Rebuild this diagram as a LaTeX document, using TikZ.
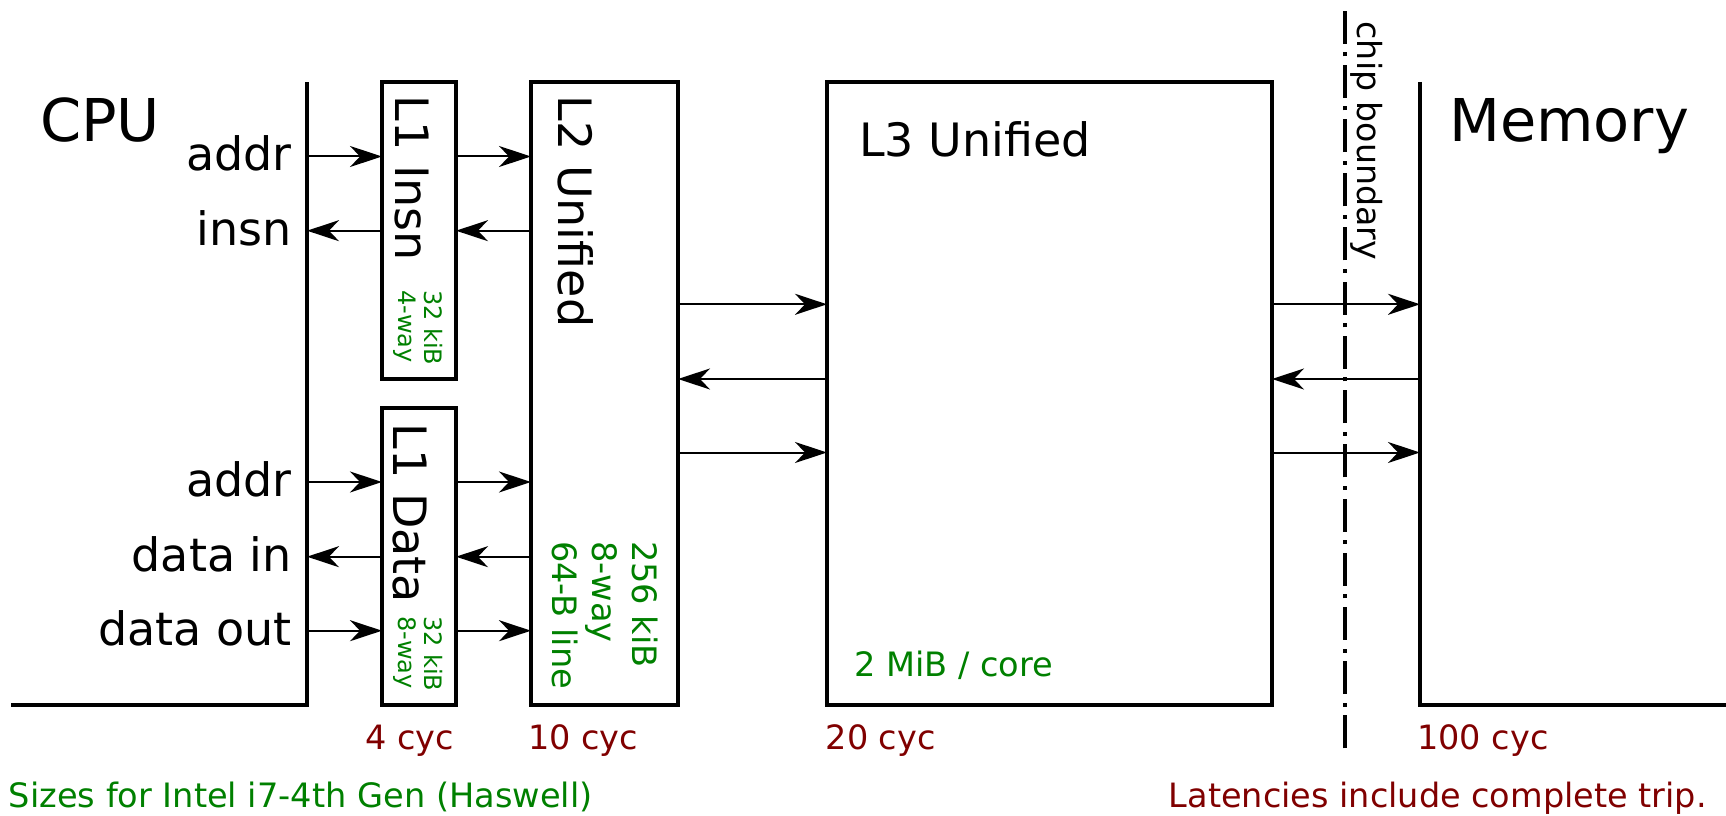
\documentclass[tikz,border=0pt]{standalone}
\usepackage{fontspec}
\setmainfont{DejaVu Sans}
\usetikzlibrary{arrows.meta,positioning}
\definecolor{sizegreen}{HTML}{008000}
\definecolor{latred}{HTML}{800000}

\begin{document}
\begin{tikzpicture}[
    x=1pt, y=1pt,
    cache/.style={draw, line width=3.6pt, inner sep=0pt, outer sep=0pt},
    wall/.style={line width=3.6pt},
    arrow/.style={-{Stealth[length=32pt, width=21pt, inset=10pt]}, line width=2pt},
    big/.style={font=\fontsize{59}{70}\selectfont, inner sep=0pt},
    lbl/.style={font=\fontsize{46}{55}\selectfont, inner sep=0pt},
    vlbl/.style={lbl, rotate=-90, anchor=base west},
    tiny/.style={font=\fontsize{24}{26}\selectfont, text=sizegreen, inner sep=0pt, rotate=-90, align=left, anchor=north west},
    size/.style={font=\fontsize{33.6}{40}\selectfont, text=sizegreen, inner sep=0pt},
    lat/.style={font=\fontsize{33.5}{40}\selectfont, text=latred, inner sep=0pt, anchor=base west}
  ]
    \useasboundingbox (0,0) rectangle (1726,815);

    % CPU side
    \coordinate (cpu top) at (307,733);
    \coordinate (cpu bot) at (307,110);
    \coordinate (cpu end) at (11,110);
    \draw[wall] (cpu end) -- (cpu bot) -- (cpu top);
    \node[big, anchor=base west] (cpu) at (40,673) {CPU};

    % caches
    \node[cache, minimum width=74pt, minimum height=297pt, anchor=north west] (l1i) at (382,733) {};
    \node[cache, minimum width=74pt, minimum height=297pt, anchor=south west] (l1d) at (382,110) {};
    \node[cache, minimum width=147pt, minimum height=623pt, right=75pt of l1d.south east, anchor=south west] (l2) {};
    \node[cache, minimum width=445pt, minimum height=623pt, right=149pt of l2.south east, anchor=south west] (l3) {};

    % memory side
    \coordinate (mem top) at (1420,733);
    \coordinate (mem bot) at (1420,110);
    \coordinate (mem end) at (1726,110);
    \draw[wall] (mem top) -- (mem bot) -- (mem end);
    \node[big, anchor=base west] (mem) at (1449,673) {Memory};

    % chip boundary
    \coordinate (chip top) at (1345,807);
    \coordinate (chip bot) at (1345,66.7);
    \draw[line width=3.8pt, dash pattern=on 33pt off 8.6pt on 4pt off 8.6pt] (chip bot) -- (chip top);
    \node[font=\fontsize{33.2}{38}\selectfont, inner sep=0pt, rotate=-90, anchor=base west] (chip) at (1357,793.5) {chip boundary};

    % ports on the CPU and memory lines
    \coordinate (iaddr) at (307,658.5);
    \coordinate (insn) at (307,584.3);
    \coordinate (daddr) at (307,333);
    \coordinate (din) at (307,258.3);
    \coordinate (dout) at (307,184.3);
    \coordinate (m1) at (1420,510.7);
    \coordinate (m2) at (1420,436);
    \coordinate (m3) at (1420,362.5);

    \node[lbl, anchor=base east] at (292,644) {addr};
    \node[lbl, anchor=base east] at (292,569.8) {insn};
    \node[lbl, anchor=base east] at (292,318.5) {addr};
    \node[lbl, anchor=base east] at (292,243.8) {data in};
    \node[lbl, anchor=base east] at (292,169.8) {data out};

    % labels in the boxes
    \node[vlbl] (l1ilbl) at (395,719.5) {L1 Insn};
    \node[vlbl] (l1dlbl) at (393,391.5) {L1 Data};
    \node[vlbl] (l2lbl) at (558,719.5) {L2 Unified};
    \node[lbl, anchor=base west] (l3lbl) at (859,658.3) {L3 Unified};
    \node[tiny] at (443,525) {32 kiB\\4-way};
    \node[tiny] at (443,199) {32 kiB\\8-way};
    \node[size, rotate=-90, align=left, anchor=north west] at (658,274) {256 kiB\\8-way\\64-B line};
    \node[size, anchor=base west] at (854,138.3) {2 MiB / core};

    % arrows
    \draw[arrow] (iaddr) -- (iaddr -| l1i.west);
    \draw[arrow] (l1i.east |- iaddr) -- (l2.west |- iaddr);
    \draw[arrow] (l2.west |- insn) -- (l1i.east |- insn);
    \draw[arrow] (l1i.west |- insn) -- (insn);
    \draw[arrow] (daddr) -- (daddr -| l1d.west);
    \draw[arrow] (l1d.east |- daddr) -- (l2.west |- daddr);
    \draw[arrow] (l2.west |- din) -- (l1d.east |- din);
    \draw[arrow] (l1d.west |- din) -- (din);
    \draw[arrow] (dout) -- (dout -| l1d.west);
    \draw[arrow] (l1d.east |- dout) -- (l2.west |- dout);
    \draw[arrow] (l2.east |- m1) -- (l3.west |- m1);
    \draw[arrow] (l3.west |- m2) -- (l2.east |- m2);
    \draw[arrow] (l2.east |- m3) -- (l3.west |- m3);
    \draw[arrow] (l3.east |- m1) -- (m1);
    \draw[arrow] (m2) -- (l3.east |- m2);
    \draw[arrow] (l3.east |- m3) -- (m3);

    % latencies and notes
    \node[lat] at (365,65.5) {4 cyc};
    \node[lat] at (528,65.5) {10 cyc};
    \node[lat] at (825.5,65.5) {20 cyc};
    \node[lat] at (1417,65.5) {100 cyc};
    \node[size, anchor=base west] at (8.7,8) {Sizes for Intel i7-4th Gen (Haswell)};
    \node[lat, anchor=base east] at (1707,8) {Latencies include complete trip.};
  \end{tikzpicture}
\end{document}
